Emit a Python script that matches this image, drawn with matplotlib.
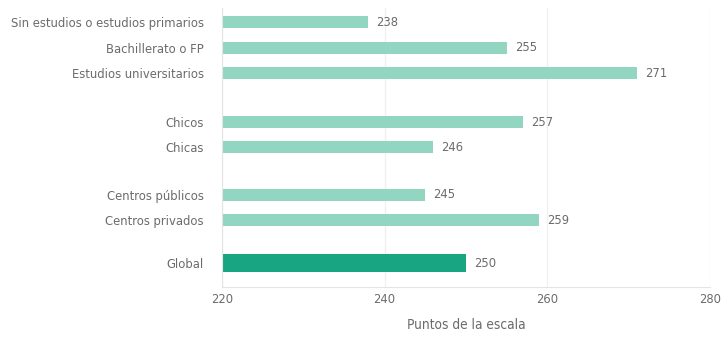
import matplotlib
matplotlib.use('Agg')
import matplotlib.pyplot as plt

# datos
categorias = ['Sin estudios o estudios primarios', 'Bachillerato o FP', 'Estudios universitarios',
              'Chicos', 'Chicas', 'Centros públicos', 'Centros privados', 'Global']
puntos = [238, 255, 271, 257, 246, 245, 259, 250]
ticks_x = [220, 240, 260, 280]

# posiciones de las filas (huecos entre grupos)
posiciones = [0, 1.05, 2.07, 4.07, 5.08, 7.03, 8.05, 9.8]
claro = '#92d6c1'
oscuro = '#17a582'
gris = '#6b6b6b'

plt.rcParams['font.family'] = ['DejaVu Sans']
plt.rcParams['font.stretch'] = 'condensed'

fig = plt.figure(figsize=(7.23, 3.38), dpi=100)
ax = fig.add_axes([0.307, 0.151, 0.675, 0.825])

for i, (pos, val) in enumerate(zip(posiciones, puntos)):
    es_global = categorias[i] == 'Global'
    h = 0.74 if es_global else 0.5
    ax.barh(pos, val - 220, left=220, height=h, color=oscuro if es_global else claro, zorder=2)
    ax.text(val + 1, pos, str(val), va='center', ha='left', fontsize=9.3, color=gris,
            fontstretch='condensed')

ax.set_xlim(220, 280)
ax.set_ylim(10.77, -0.57)
ax.set_xticks(ticks_x)
ax.set_xticklabels([str(t) for t in ticks_x], fontsize=9.3, color=gris, fontstretch='condensed')
ax.set_yticks(posiciones)
ax.set_yticklabels(categorias, fontsize=9.3, color=gris, fontstretch='condensed')
ax.tick_params(length=0, pad=4)
ax.tick_params(axis='y', pad=13)
ax.xaxis.grid(True, color='#f0f0f0', linewidth=1, zorder=0)
for s in ['top', 'right']:
    ax.spines[s].set_visible(False)
for s in ['left', 'bottom']:
    ax.spines[s].set_color('#e4e4e4')
ax.set_xlabel('Puntos de la escala', fontsize=9.8, color=gris, labelpad=9,
              fontstretch='condensed')

fig.savefig('out.png', dpi=100)
